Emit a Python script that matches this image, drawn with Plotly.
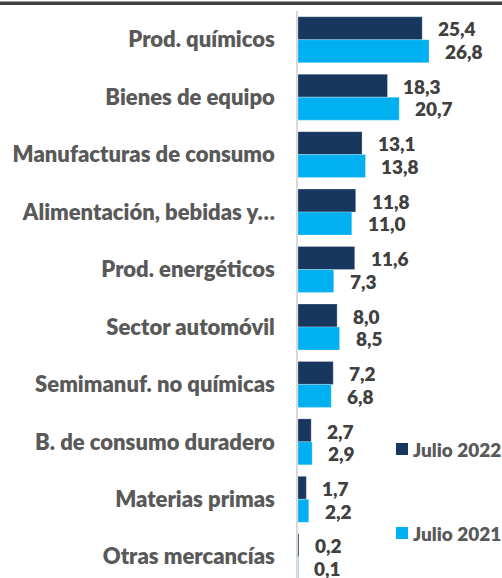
import plotly.graph_objects as go

categories = ["Prod. químicos", "Bienes de equipo", "Manufacturas de consumo",
              "Alimentación, bebidas y…", "Prod. energéticos", "Sector automóvil",
              "Semimanuf. no químicas", "B. de consumo duradero", "Materias primas",
              "Otras mercancías"]
julio_2022 = [25.4, 18.3, 13.1, 11.8, 11.6, 8.0, 7.2, 2.7, 1.7, 0.2]
julio_2021 = [26.8, 20.7, 13.8, 11.0, 7.3, 8.5, 6.8, 2.9, 2.2, 0.1]
series_names = ["Julio 2022", "Julio 2021"]
colors = ["#17375e", "#00b0f0"]

W, H = 502, 578
ML, MT = 298, 11
PW, PH = W - ML, H - MT

FONT = "Lato"
WT = 800

fig = go.Figure()
for name, vals, col in zip(series_names, [julio_2022, julio_2021], colors):
    fig.add_trace(go.Bar(
        y=categories, x=vals, name=name, orientation="h",
        marker=dict(color=col, line=dict(color="rgba(255,255,255,0.5)", width=0.5)),
        showlegend=False, hoverinfo="skip",
    ))

def fmt(v):
    return f"{v:.1f}".replace(".", ",")

annotations = []
for vals, ys in zip([julio_2022, julio_2021], [-11.3, 11.3]):
    for c, v in zip(categories, vals):
        annotations.append(dict(
            x=v, y=c, xref="x", yref="y", text=fmt(v), showarrow=False,
            xanchor="left", yanchor="middle", xshift=14, yshift=-ys - 0.5,
            font=dict(family=FONT, size=19, color="#404040", weight=WT),
        ))

def px_x(p):
    return (p - ML) / PW

def px_y(p):
    return (H - p) / PH

shapes = []
legend_y = [449, 533]
for name, col, cy in zip(series_names, colors, legend_y):
    shapes.append(dict(type="rect", xref="paper", yref="paper",
                       x0=px_x(396), x1=px_x(408), y0=px_y(cy + 6), y1=px_y(cy - 6),
                       fillcolor=col, line=dict(width=0)))
    annotations.append(dict(x=px_x(411), y=px_y(cy), xref="paper", yref="paper",
                            text=name, showarrow=False, xanchor="left", yanchor="middle",
                            font=dict(family=FONT, size=19, color="#595959", weight=WT)))

# top border line (remnant of cropped title area)
shapes.append(dict(type="rect", xref="paper", yref="paper",
                   x0=px_x(0), x1=px_x(W), y0=px_y(5), y1=px_y(1.5),
                   fillcolor="#404040", line=dict(width=0), layer="above"))

fig.update_layout(
    width=W, height=H,
    margin=dict(l=ML, r=0, t=MT, b=0, pad=0),
    paper_bgcolor="white", plot_bgcolor="white",
    barmode="group", bargap=0.2, bargroupgap=0,
    xaxis=dict(range=[0, PW / 4.89], visible=False, fixedrange=True),
    yaxis=dict(range=[9.37, -0.5], type="category", showgrid=False, fixedrange=True,
               showline=True, linecolor="#d9d9d9", linewidth=1.5,
               ticks="", ticklabelstandoff=17,
               tickfont=dict(family=FONT, size=22, color="#595959", weight=WT)),
    annotations=annotations, shapes=shapes,
    showlegend=False,
)
fig.write_html("out.html", config={"displayModeBar": False},
               post_script="document.body.style.margin='0';document.body.style.overflow='hidden';")
